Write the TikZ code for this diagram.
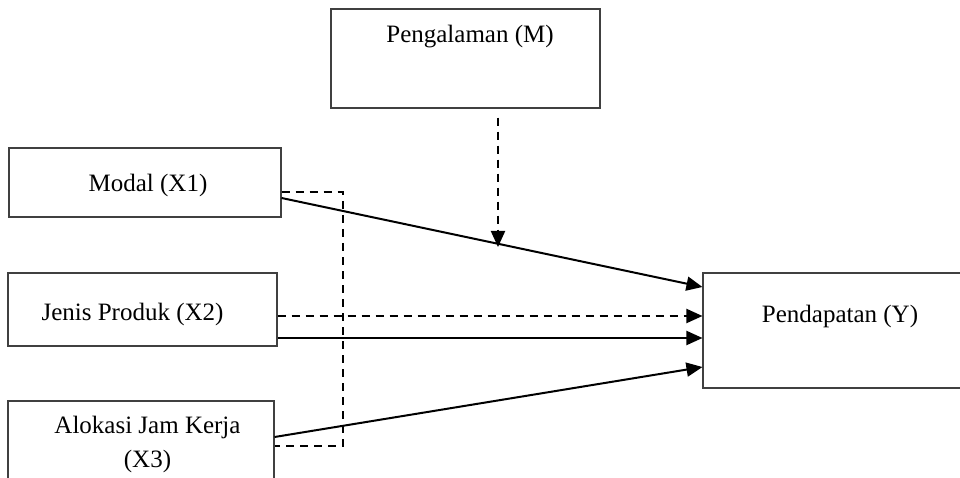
\documentclass[tikz,border=0pt]{standalone}
\usepackage{fontspec}
\setmainfont{Liberation Serif}
\usetikzlibrary{arrows.meta}
\begin{document}
\begin{tikzpicture}[x=1pt,y=-1pt,
  box/.style={draw=black!75,line width=1.1pt,rectangle,inner sep=0pt},
  lbl/.style={font=\fontsize{25}{34}\selectfont,anchor=base,inner sep=0pt,align=center},
  conn/.style={line width=2pt,-{Triangle[length=16pt,width=14pt]}},
  dconn/.style={conn,dash pattern=on 8pt off 6pt},
  dline/.style={line width=2.1pt,dash pattern=on 8pt off 6pt}]
\useasboundingbox (0,0) rectangle (960,478);
% boxes
\node[box,minimum width=272pt,minimum height=69pt] (X1) at (145,182.5) {};
\node[box,minimum width=269pt,minimum height=73pt] (X2) at (142.5,309.5) {};
\node[box,minimum width=266pt,minimum height=119pt] (X3) at (141,460.5) {};
\node[box,minimum width=269pt,minimum height=99pt] (M) at (465.5,58.5) {};
\node[box,minimum width=277pt,minimum height=115pt] (Y) at (841.5,330.5) {};
% texts
\node[lbl] (tX1) at (148,192) {Modal (X1)};
\node[lbl] (tX2) at (132.5,320) {Jenis Produk (X2)};
\node[lbl] (tX3a) at (147.5,433) {Alokasi Jam Kerja};
\node[lbl] (tX3b) at (147.5,467) {(X3)};
\node[lbl] (tM) at (470,43) {Pengalaman (M)};
\node[lbl] (tY) at (840,322) {Pendapatan (Y)};
% connectors
\draw[conn] ([yshift=-15.5pt]X1.east) -- ([yshift=43.5pt]Y.west);
\draw[dconn] ([yshift=-6.5pt]X2.east) -- ([yshift=14.5pt]Y.west);
\draw[conn] ([yshift=-28.5pt]X2.east) -- ([yshift=-7.5pt]Y.west);
\draw[conn] ([yshift=23.5pt]X3.east) -- ([yshift=-36.5pt]Y.west);
\draw[dline] ([yshift=-9.5pt]X1.east) -- ++(61pt,0pt) |- ([yshift=14.5pt]X3.east);
\coordinate (Mtip) at (498,247);
\draw[dconn] ([xshift=32.5pt,yshift=-9pt]M.south) -- (Mtip);
\end{tikzpicture}
\end{document}
